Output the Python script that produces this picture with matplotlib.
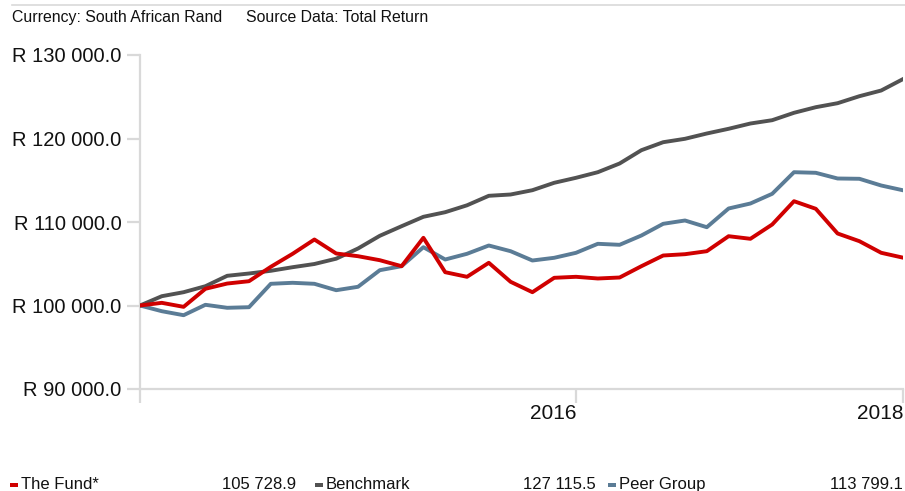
import matplotlib.pyplot as plt
import matplotlib.ticker as mticker
from matplotlib.lines import Line2D
from matplotlib.patches import Rectangle

plt.rcParams['font.family'] = ['Liberation Sans', 'DejaVu Sans']

# monthly-ish index values (36 points)
fund = [100000, 100320, 99840, 102000, 102630, 102910, 104635, 106190, 107904, 106228,
        105904, 105425, 104707, 108108, 103988, 103437, 105114, 102838, 101593, 103317,
        103437, 103234, 103353, 104707, 105988, 106144, 106503, 108299, 107988, 109701,
        112491, 111581, 108623, 107701, 106311, 105728.9]
benchmark = [100000, 101114, 101593, 102311, 103557, 103832, 104156, 104587, 104970, 105605,
             106826, 108347, 109497, 110623, 111174, 112000, 113138, 113293, 113808, 114695,
             115293, 115964, 117006, 118599, 119557, 119964, 120599, 121162, 121796, 122192,
             123078, 123749, 124228, 125066, 125749, 127115.5]
peer = [100000, 99317, 98838, 100084, 99725, 99796, 102599, 102719, 102599, 101832,
        102240, 104228, 104707, 106982, 105509, 106192, 107186, 106503, 105389, 105713,
        106311, 107389, 107269, 108383, 109784, 110180, 109377, 111617, 112216, 113377,
        115964, 115892, 115210, 115174, 114371, 113799.1]

x_ticks = [0, 20, 35]
x_labels = ['', '2016', '2018']
y_ticks = [90000, 100000, 110000, 120000, 130000]

names = ['The Fund*', 'Benchmark', 'Peer Group']
series = [fund, benchmark, peer]
colors = ['#d00000', '#525252', '#5b7c96']

W, H = 905, 491
fig = plt.figure(figsize=(W / 100, H / 100), dpi=100)
ax = fig.add_axes([140 / W, (H - 389) / H, (903 - 140) / W, 334 / H])

xs = list(range(len(fund)))
ax.plot(xs, benchmark, color=colors[1], lw=2.8, solid_joinstyle='round', zorder=3)
ax.plot(xs, peer, color=colors[2], lw=2.8, solid_joinstyle='round', zorder=4)
ax.plot(xs, fund, color=colors[0], lw=2.8, solid_joinstyle='round', zorder=5)

ax.set_xlim(0, 35)
ax.set_ylim(90000, 130000)
ax.set_yticks(y_ticks)
ax.yaxis.set_major_formatter(mticker.FuncFormatter(
    lambda v, p: 'R ' + f'{v:,.1f}'.replace(',', ' ')))
ax.set_xticks(x_ticks)
ax.set_xticklabels(x_labels, ha='right')

for s in ['top', 'right']:
    ax.spines[s].set_visible(False)
for s in ['left', 'bottom']:
    ax.spines[s].set_color('#d9d9d9')
    ax.spines[s].set_linewidth(1.6)
ax.tick_params(axis='y', length=9.5, width=1.6, color='#d9d9d9', pad=4,
               labelsize=14.5, labelcolor='#111111')
ax.tick_params(axis='x', length=10, width=1.6, color='#d9d9d9', pad=1,
               labelsize=15, labelcolor='#111111')

# header
fig.add_artist(Line2D([12 / W, 1], [1 - 5 / H, 1 - 5 / H], color='#d9d9d9', lw=1.2))
fig.text(12 / W, 1 - 22 / H, 'Currency: South African Rand', fontsize=11.4,
         va='baseline', ha='left', color='#111111')
fig.text(246 / W, 1 - 22 / H, 'Source Data: Total Return', fontsize=11.4,
         va='baseline', ha='left', color='#111111')

# legend row at the bottom
leg_x = [10, 315, 608]
val_x = [296, 596, 903]
for name, vals, c, lx, vx in zip(names, series, colors, leg_x, val_x):
    fig.add_artist(Rectangle((lx / W, 1 - 487 / H), 8 / W, 4 / H, color=c, lw=0))
    fig.text((lx + 11) / W, 1 - 489 / H, name, fontsize=12, va='baseline', ha='left',
             color='#111111')
    fig.text(vx / W, 1 - 489 / H, f'{vals[-1]:,.1f}'.replace(',', ' '), fontsize=12,
             va='baseline', ha='right', color='#111111')

fig.savefig('out.png', dpi=100)
